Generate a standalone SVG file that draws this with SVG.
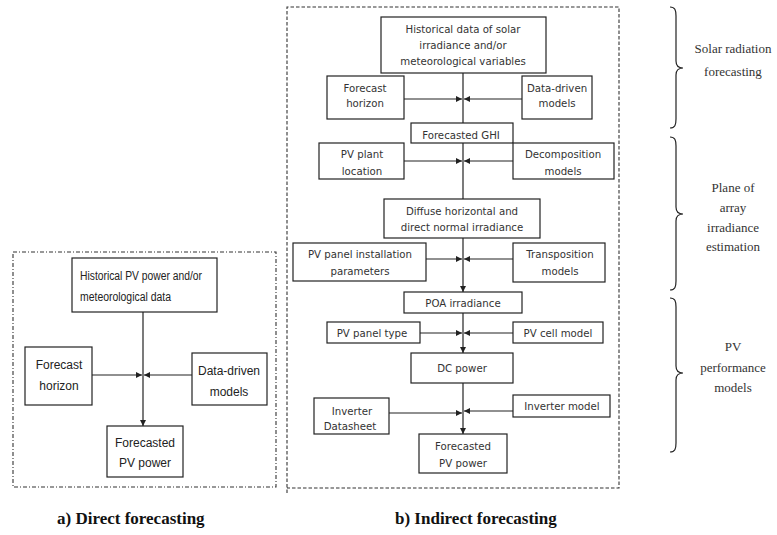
<svg xmlns="http://www.w3.org/2000/svg" width="777" height="535" viewBox="0 0 777 535">
  <defs>
    <style>
      .frame-a { fill: none; stroke: #333; stroke-width: 1.1; stroke-dasharray: 4 2 1 2; }
      .frame-b { fill: none; stroke: #333; stroke-width: 1.1; stroke-dasharray: 3.5 2; }
      .box { fill: #fff; stroke: #222; stroke-width: 1.2; }
      .wire { fill: none; stroke: #222; stroke-width: 1.2; }
      .brace { fill: none; stroke: #222; stroke-width: 1.2; }
      .lt { font-family: "Liberation Sans Narrow", "Liberation Sans", Arial, sans-serif; font-size: 12px; fill: #222; }
      .rt { font-family: "DejaVu Sans", Verdana, sans-serif; font-size: 10.2px; fill: #333; text-anchor: middle; }
      .side { font-family: "Liberation Serif", "Times New Roman", serif; font-size: 13px; fill: #333; text-anchor: middle; }
      .cap { font-family: "Liberation Serif", "Times New Roman", serif; font-size: 17px; font-weight: bold; fill: #111; }
      .mid { text-anchor: middle; }
    </style>
    <marker id="arrow" viewBox="0 0 10 10" refX="10" refY="5" markerWidth="6" markerHeight="6" markerUnits="userSpaceOnUse" orient="auto">
      <path d="M0,0 L10,5 L0,10 Z" fill="#222"/>
    </marker>
  </defs>

  <rect width="777" height="535" fill="#fff"/>

  <!-- Frames -->
  <rect class="frame-a" x="13" y="252" width="263" height="235"/>
  <path class="frame-b" d="M287,493 V7 H619 V488 H287"/>

  <!-- a) Direct forecasting -->
  <g id="connectors-a">
    <line class="wire" x1="143" y1="312" x2="143" y2="426" marker-end="url(#arrow)"/>
    <line class="wire" x1="92" y1="375" x2="142" y2="375" marker-end="url(#arrow)"/>
    <line class="wire" x1="192" y1="375" x2="144" y2="375" marker-end="url(#arrow)"/>
  </g>

  <g id="a-historical">
    <rect class="box" x="72" y="258" width="145" height="54"/>
    <text class="lt" x="80" y="280" textLength="122" lengthAdjust="spacingAndGlyphs">Historical PV power and/or</text>
    <text class="lt" x="80" y="301" textLength="91" lengthAdjust="spacingAndGlyphs">meteorological data</text>
  </g>
  <g id="a-horizon">
    <rect class="box" x="25" y="347" width="67" height="58"/>
    <text class="lt mid" x="59" y="369">Forecast</text>
    <text class="lt mid" x="59" y="390">horizon</text>
  </g>
  <g id="a-models">
    <rect class="box" x="192" y="353" width="75" height="52"/>
    <text class="lt mid" x="229" y="375">Data-driven</text>
    <text class="lt mid" x="229" y="396">models</text>
  </g>
  <g id="a-output">
    <rect class="box" x="107" y="426" width="76" height="51"/>
    <text class="lt mid" x="145" y="447">Forecasted</text>
    <text class="lt mid" x="145" y="467">PV power</text>
  </g>

  <!-- b) Indirect forecasting -->
  <g id="connectors-b">
    <line class="wire" x1="463" y1="73" x2="463" y2="123"/>
    <line class="wire" x1="404" y1="99" x2="462" y2="99" marker-end="url(#arrow)"/>
    <line class="wire" x1="522" y1="99" x2="464" y2="99" marker-end="url(#arrow)"/>

    <line class="wire" x1="463" y1="143" x2="463" y2="199"/>
    <line class="wire" x1="404" y1="161" x2="462" y2="161" marker-end="url(#arrow)"/>
    <line class="wire" x1="513" y1="161" x2="464" y2="161" marker-end="url(#arrow)"/>

    <line class="wire" x1="463" y1="238" x2="463" y2="292" marker-end="url(#arrow)"/>
    <line class="wire" x1="426" y1="259" x2="462" y2="259" marker-end="url(#arrow)"/>
    <line class="wire" x1="513" y1="259" x2="464" y2="259" marker-end="url(#arrow)"/>

    <line class="wire" x1="463" y1="313" x2="463" y2="353" marker-end="url(#arrow)"/>
    <line class="wire" x1="420" y1="333" x2="462" y2="333" marker-end="url(#arrow)"/>
    <line class="wire" x1="513" y1="333" x2="464" y2="333" marker-end="url(#arrow)"/>

    <line class="wire" x1="463" y1="383" x2="463" y2="434" marker-end="url(#arrow)"/>
    <line class="wire" x1="389" y1="413" x2="462" y2="413" marker-end="url(#arrow)"/>
    <line class="wire" x1="513" y1="411" x2="464" y2="411" marker-end="url(#arrow)"/>
  </g>

  <g id="b-historical">
    <rect class="box" x="381" y="17" width="165" height="56"/>
    <text class="rt" x="463" y="33">Historical data of solar</text>
    <text class="rt" x="463" y="49">irradiance and/or</text>
    <text class="rt" x="463" y="65">meteorological variables</text>
  </g>
  <g id="b-horizon">
    <rect class="box" x="327" y="76" width="77" height="43"/>
    <text class="rt" x="365" y="92">Forecast</text>
    <text class="rt" x="365" y="107">horizon</text>
  </g>
  <g id="b-datadriven">
    <rect class="box" x="522" y="76" width="70" height="43"/>
    <text class="rt" x="557" y="92">Data-driven</text>
    <text class="rt" x="557" y="107">models</text>
  </g>
  <g id="b-ghi">
    <rect class="box" x="411" y="123" width="102" height="20"/>
    <text class="rt" x="461" y="139">Forecasted GHI</text>
  </g>
  <g id="b-location">
    <rect class="box" x="319" y="143" width="85" height="36"/>
    <text class="rt" x="362" y="158">PV plant</text>
    <text class="rt" x="362" y="175">location</text>
  </g>
  <g id="b-decomposition">
    <rect class="box" x="513" y="143" width="101" height="36"/>
    <text class="rt" x="563" y="158">Decomposition</text>
    <text class="rt" x="563" y="175">models</text>
  </g>
  <g id="b-diffuse">
    <rect class="box" x="384" y="199" width="156" height="39"/>
    <text class="rt" x="462" y="215">Diffuse horizontal and</text>
    <text class="rt" x="462" y="231">direct normal irradiance</text>
  </g>
  <g id="b-installation">
    <rect class="box" x="293" y="243" width="133" height="38"/>
    <text class="rt" x="360" y="258">PV panel installation</text>
    <text class="rt" x="360" y="275">parameters</text>
  </g>
  <g id="b-transposition">
    <rect class="box" x="513" y="243" width="92" height="39"/>
    <text class="rt" x="560" y="258">Transposition</text>
    <text class="rt" x="560" y="275">models</text>
  </g>
  <g id="b-poa">
    <rect class="box" x="404" y="292" width="118" height="21"/>
    <text class="rt" x="463" y="307">POA irradiance</text>
  </g>
  <g id="b-paneltype">
    <rect class="box" x="327" y="322" width="93" height="21"/>
    <text class="rt" x="372" y="337">PV panel type</text>
  </g>
  <g id="b-cellmodel">
    <rect class="box" x="513" y="322" width="90" height="21"/>
    <text class="rt" x="558" y="337">PV cell model</text>
  </g>
  <g id="b-dc">
    <rect class="box" x="411" y="353" width="102" height="30"/>
    <text class="rt" x="462" y="372">DC power</text>
  </g>
  <g id="b-datasheet">
    <rect class="box" x="314" y="398" width="75" height="36"/>
    <text class="rt" x="352" y="415">Inverter</text>
    <text class="rt" x="350" y="430">Datasheet</text>
  </g>
  <g id="b-invmodel">
    <rect class="box" x="513" y="395" width="97" height="22"/>
    <text class="rt" x="562" y="410">Inverter model</text>
  </g>
  <g id="b-output">
    <rect class="box" x="419" y="434" width="88" height="39"/>
    <text class="rt" x="463" y="450">Forecasted</text>
    <text class="rt" x="463" y="467">PV power</text>
  </g>

  <!-- Stage braces and labels -->
  <g id="stage-solar">
    <path class="brace" d="M670,7 C675,7 676,10 676,16 L676,61 C676,66 678,68 683,68 C678,68 676,70 676,75 L676,119 C676,125 675,128 670,128"/>
    <text class="side" x="733" y="53">Solar radiation</text>
    <text class="side" x="733" y="76">forecasting</text>
  </g>
  <g id="stage-poa">
    <path class="brace" d="M670,137 C675,137 676,140 676,146 L676,207 C676,212 678,214 683,214 C678,214 676,216 676,221 L676,281 C676,287 675,290 670,290"/>
    <text class="side" x="733" y="192">Plane of</text>
    <text class="side" x="733" y="212">array</text>
    <text class="side" x="733" y="232">irradiance</text>
    <text class="side" x="733" y="251">estimation</text>
  </g>
  <g id="stage-pv">
    <path class="brace" d="M670,298 C675,298 676,301 676,307 L676,366 C676,371 678,373 683,373 C678,373 676,375 676,380 L676,443 C676,449 675,452 670,452"/>
    <text class="side" x="733" y="351">PV</text>
    <text class="side" x="733" y="372">performance</text>
    <text class="side" x="733" y="392">models</text>
  </g>

  <!-- Captions -->
  <text class="cap" x="57" y="524">a) Direct forecasting</text>
  <text class="cap" x="395" y="524">b) Indirect forecasting</text>
</svg>
